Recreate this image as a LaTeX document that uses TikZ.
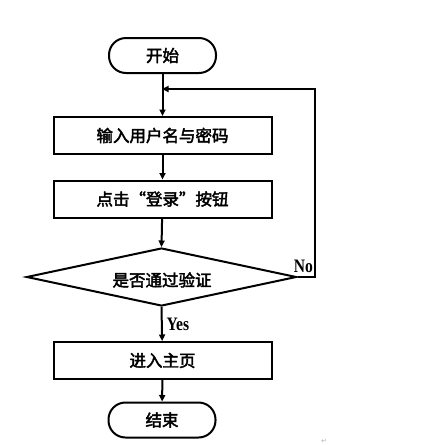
\documentclass[tikz,border=0pt]{standalone}
\usepackage{fontspec}
\setmainfont{Liberation Serif}
\newfontfamily\cjk{Noto Sans CJK SC}[FakeBold=2.5]
\newfontfamily\labf{Liberation Serif}[FakeStretch=0.82]
\newfontfamily\symf{DejaVu Sans}
\usetikzlibrary{shapes.geometric,arrows.meta}
\begin{document}
\begin{tikzpicture}[x=1pt,y=-1pt,
  every node/.style={inner sep=0pt},
  arr/.style={line width=2pt,-{Triangle[length=6.5pt,width=6pt]}},
  cjkfont/.style={font=\cjk\fontsize{16.5}{16.5}\selectfont},
  term/.style={draw,line width=2pt,rounded corners=17pt,minimum width=107pt,minimum height=35pt,cjkfont},
  proc/.style={draw,line width=2pt,minimum width=218pt,minimum height=37pt,cjkfont},
  dec/.style={draw,line width=2pt,diamond,aspect=4.6,minimum width=270pt,minimum height=58pt},
  lab/.style={font=\labf\bfseries\fontsize{19}{19}\selectfont}]
\useasboundingbox (0,0) rectangle (435,445);
\node[term] (start) at (162.5,55.5) {开始};
\node[proc] (b1) at (162.5,135.5) {输入用户名与密码};
\node[proc] (b2) at (162.5,199) {点击“登录”按钮};
\node[dec] (d) at (161.5,277) {};
\node[cjkfont] (dt) at (162,280) {是否通过验证};
\node[proc] (b3) at (162.5,360.5) {进入主页};
\node[term] (end) at (162,420) {结束};
\coordinate (j) at (162,89);
\draw[arr] (start) -- (b1);
\draw[arr] (b1) -- (b2);
\draw[arr] (b2) -- (d.north);
\draw[arr] (d.south) -- (b3);
\draw[arr] (b3) -- (end);
\draw[arr] (d.east) -- ++(17,0) |- (j);
\node[lab,anchor=base east] (no) at (313,272) {No};
\node[lab,anchor=base west] (yes) at (166.5,330) {Yes};
\node[font=\symf\fontsize{7}{7}\selectfont,text=gray!60] (pm) at (324,441) {↵};
\end{tikzpicture}
\end{document}
